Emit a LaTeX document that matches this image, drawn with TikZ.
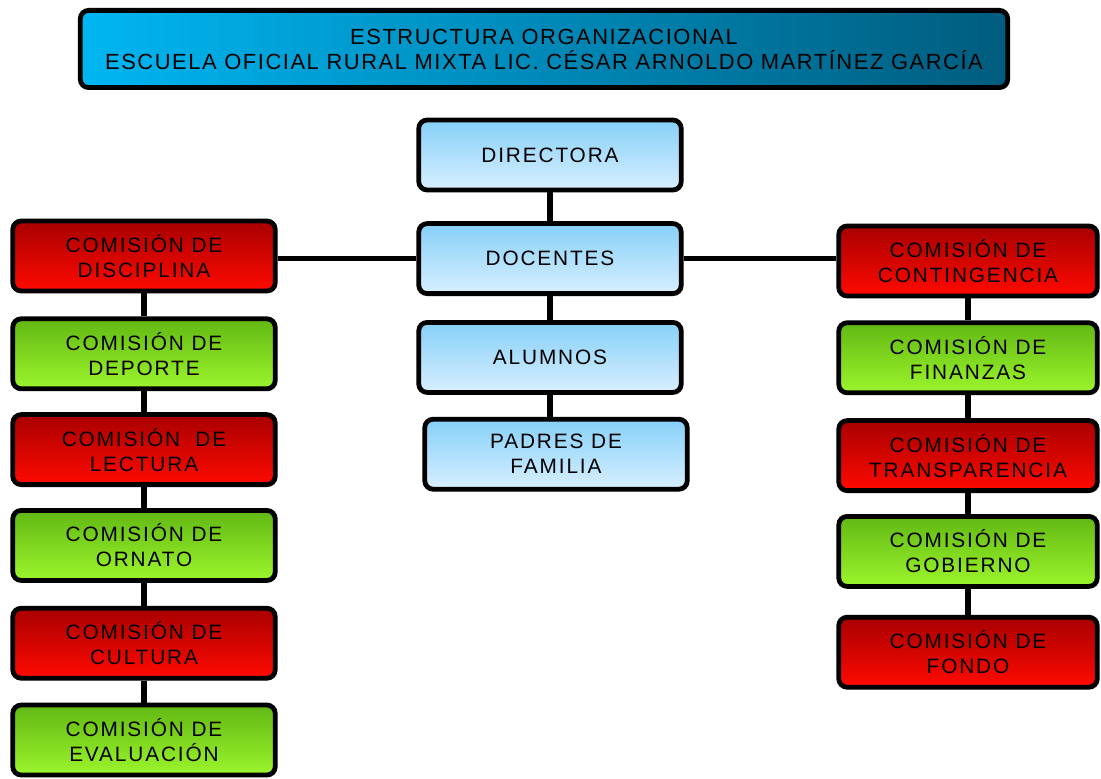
\documentclass[tikz,border=0pt]{standalone}
\usepackage{fontspec}
\setmainfont{Liberation Sans}
\usetikzlibrary{positioning,shadows}
\definecolor{redtop}{HTML}{A80000}
\definecolor{redbot}{HTML}{FF0A00}
\definecolor{greentop}{HTML}{62B814}
\definecolor{greenbot}{HTML}{9CF52C}
\definecolor{bluetop}{HTML}{86D0F8}
\definecolor{bluebot}{HTML}{D8EFFF}
\definecolor{titleleft}{HTML}{00B6F2}
\definecolor{titleright}{HTML}{005C7E}
\tikzset{
    %Define style for boxes
    box/.style={
           rectangle,
           rounded corners=6pt,
           draw=black, line width=3.4pt,
           minimum width=6.56cm,
           minimum height=1.75cm,
           align=center,
           font=\fontsize{14.8}{17.8}\selectfont\addfontfeatures{LetterSpace=9},
           drop shadow={shadow xshift=1.5pt, shadow yshift=-1.5pt, fill=gray!50}},
    redbox/.style={box, top color=redtop, bottom color=redbot},
    greenbox/.style={box, top color=greentop, bottom color=greenbot},
    bluebox/.style={box, top color=bluetop, bottom color=bluebot},
    titlebox/.style={box, minimum width=23.18cm, minimum height=1.93cm,
           left color=titleleft, right color=titleright,
           font=\fontsize{15.6}{17.8}\selectfont\addfontfeatures{LetterSpace=7}},
    % Define connector style
    link/.style={
           draw=black,
           line width=4pt}
}

\begin{document}
\begin{tikzpicture}[x=0.025cm, y=0.025cm]
 \useasboundingbox (0,0) rectangle (1101,778);
 %title
    \node[titlebox] (title) at (544,729) {ESTRUCTURA ORGANIZACIONAL\\ESCUELA OFICIAL RURAL MIXTA LIC. CÉSAR ARNOLDO MARTÍNEZ GARCÍA};
 %center column
    \node[bluebox] (dir) at (550,623) {DIRECTORA};
    \node[bluebox, below=0.72cm of dir] (doc) {DOCENTES};
    \node[bluebox, below=0.6cm of doc] (alu) {ALUMNOS};
    \node[bluebox, below=0.55cm of alu, xshift=0.15cm] (pad) {PADRES DE\\FAMILIA};
 %left column
    \node[redbox] (disc) at (144,522) {COMISIÓN DE\\DISCIPLINA};
    \node[greenbox, below=0.575cm of disc] (dep) {COMISIÓN DE\\DEPORTE};
    \node[redbox, below=0.525cm of dep] (lec) {COMISIÓN \ DE\\LECTURA};
    \node[greenbox, below=0.525cm of lec] (orn) {COMISIÓN DE\\ORNATO};
    \node[redbox, below=0.575cm of orn] (cul) {COMISIÓN DE\\CULTURA};
    \node[greenbox, below=0.55cm of cul] (eva) {COMISIÓN DE\\EVALUACIÓN};
 %right column
    \node[redbox, minimum width=6.46cm] (cont) at (968,517) {COMISIÓN DE\\CONTINGENCIA};
    \node[greenbox, minimum width=6.46cm, below=0.55cm of cont] (fin) {COMISIÓN DE\\FINANZAS};
    \node[redbox, minimum width=6.46cm, below=0.575cm of fin] (tra) {COMISIÓN DE\\TRANSPARENCIA};
    \node[greenbox, minimum width=6.46cm, below=0.525cm of tra] (gob) {COMISIÓN DE\\GOBIERNO};
    \node[redbox, minimum width=6.46cm, below=0.65cm of gob] (fon) {COMISIÓN DE\\FONDO};
 %edges
    \draw[link] (dir) -- (doc);
    \draw[link] (doc) -- (alu);
    \draw[link] (alu.south) -- (alu.south |- pad.north);
    \draw[link] (doc.west) -- (doc.west -| disc.east);
    \draw[link] (doc.east) -- (doc.east -| cont.west);
    \draw[link] (disc) -- (dep);
    \draw[link] (dep) -- (lec);
    \draw[link] (lec) -- (orn);
    \draw[link] (orn) -- (cul);
    \draw[link] (cul) -- (eva);
    \draw[link] (cont) -- (fin);
    \draw[link] (fin) -- (tra);
    \draw[link] (tra) -- (gob);
    \draw[link] (gob) -- (fon);
\end{tikzpicture}
\end{document}
